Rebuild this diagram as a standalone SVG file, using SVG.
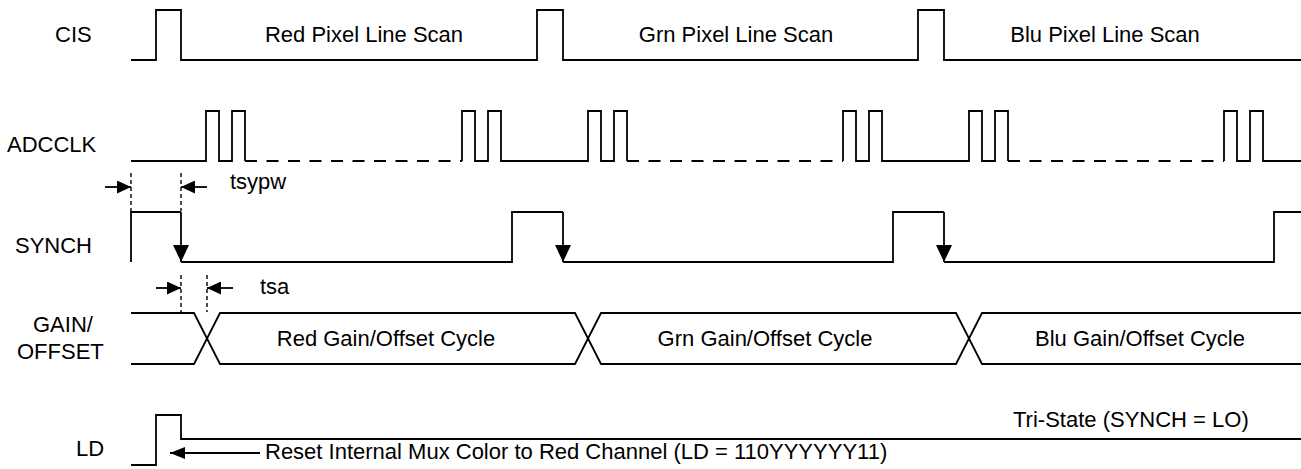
<svg xmlns="http://www.w3.org/2000/svg" width="1301" height="469" viewBox="0 0 1301 469">
<style>
  .w { fill: none; stroke: #000; stroke-width: 1.8; stroke-linejoin: miter; stroke-linecap: butt; }
  .dash { fill: none; stroke: #000; stroke-width: 1.8; stroke-dasharray: 12 9.5; }
  .guide { fill: none; stroke: #000; stroke-width: 1.4; stroke-dasharray: 4 3; }
  .dim { fill: none; stroke: #000; stroke-width: 1.8; }
  text { font-family: "Liberation Sans", Arial, sans-serif; font-size: 22px; fill: #000; }
  .mid { text-anchor: middle; }
</style>
<defs>
  <marker id="arrDim" markerUnits="userSpaceOnUse" viewBox="0 0 14 13" refX="14" refY="6.5" markerWidth="14" markerHeight="13" orient="auto">
    <path d="M0,0 L14,6.5 L0,13 z" fill="#000"/>
  </marker>
  <marker id="arrEdge" markerUnits="userSpaceOnUse" viewBox="0 0 17 16" refX="17" refY="8" markerWidth="17" markerHeight="16" orient="auto">
    <path d="M0,0 L17,8 L0,16 z" fill="#000"/>
  </marker>
  <marker id="arrLD" markerUnits="userSpaceOnUse" viewBox="0 0 15 12" refX="15" refY="6" markerWidth="15" markerHeight="12" orient="auto">
    <path d="M0,0 L15,6 L0,12 z" fill="#000"/>
  </marker>
</defs>

<g id="cis">
  <text x="55" y="42">CIS</text>
  <path class="w" d="M131,60 H156 V10 H181 V60 H537 V10 H563 V60 H918 V10 H944 V60 H1301"/>
  <text class="mid" x="364" y="42">Red Pixel Line Scan</text>
  <text class="mid" x="736" y="42">Grn Pixel Line Scan</text>
  <text class="mid" x="1105" y="42">Blu Pixel Line Scan</text>
</g>

<g id="adcclk">
  <text x="7" y="152">ADCCLK</text>
  <path class="w" d="M131,161 H206 V111 H219 V161 H232 V111 H245 V161"/>
  <path class="dash" d="M245,161 H462"/>
  <path class="w" d="M462,161 V111 H475 V161 H488 V111 H501 V161 H588 V111 H601 V161 H614 V111 H627 V161"/>
  <path class="dash" d="M627,161 H843"/>
  <path class="w" d="M843,161 V111 H856 V161 H869 V111 H882 V161 H969 V111 H982 V161 H995 V111 H1008 V161"/>
  <path class="dash" d="M1008,161 H1224"/>
  <path class="w" d="M1224,161 V111 H1237 V161 H1250 V111 H1263 V161 H1301"/>
</g>

<g id="synch">
  <text x="15" y="253">SYNCH</text>
  <path class="w" d="M131,262 V212 H181 M181,262 H512 V212 H563 M563,262 H893 V212 H944 M944,262 H1274 V212 H1301"/>
  <line class="w" x1="181" y1="212" x2="181" y2="262" marker-end="url(#arrEdge)"/>
  <line class="w" x1="563" y1="212" x2="563" y2="262" marker-end="url(#arrEdge)"/>
  <line class="w" x1="944" y1="212" x2="944" y2="262" marker-end="url(#arrEdge)"/>
</g>

<g id="gain-offset">
  <text x="33" y="332">GAIN/</text>
  <text x="17" y="359">OFFSET</text>
  <path class="w" d="M131,313 H194 L220,364 H575 L601,313 H956 L982,364 H1301"/>
  <path class="w" d="M131,364 H194 L220,313 H575 L601,364 H956 L982,313 H1301"/>
  <text class="mid" x="386" y="346">Red Gain/Offset Cycle</text>
  <text class="mid" x="765" y="346">Grn Gain/Offset Cycle</text>
  <text class="mid" x="1140" y="346">Blu Gain/Offset Cycle</text>
</g>

<g id="ld">
  <text x="76" y="456">LD</text>
  <path class="w" d="M131,465 H156 V415 H181 V439 H1301"/>
  <text x="1013" y="427">Tri-State (SYNCH = LO)</text>
  <text x="265" y="459">Reset Internal Mux Color to Red Channel (LD = 110YYYYYY11)</text>
</g>

<g id="connectors">
  <line class="guide" x1="131" y1="173" x2="131" y2="211"/>
  <line class="guide" x1="181" y1="173" x2="181" y2="211"/>
  <line class="dim" x1="105" y1="187" x2="131" y2="187" marker-end="url(#arrDim)"/>
  <line class="dim" x1="207" y1="187" x2="181" y2="187" marker-end="url(#arrDim)"/>
  <text x="230" y="189">tsypw</text>

  <line class="guide" x1="181" y1="275" x2="181" y2="313"/>
  <line class="guide" x1="207" y1="275" x2="207" y2="312"/>
  <line class="dim" x1="156" y1="288" x2="181" y2="288" marker-end="url(#arrDim)"/>
  <line class="dim" x1="233" y1="288" x2="207" y2="288" marker-end="url(#arrDim)"/>
  <text x="260" y="294">tsa</text>

  <line class="dim" x1="260" y1="453" x2="170" y2="453" marker-end="url(#arrLD)"/>
</g>
</svg>
